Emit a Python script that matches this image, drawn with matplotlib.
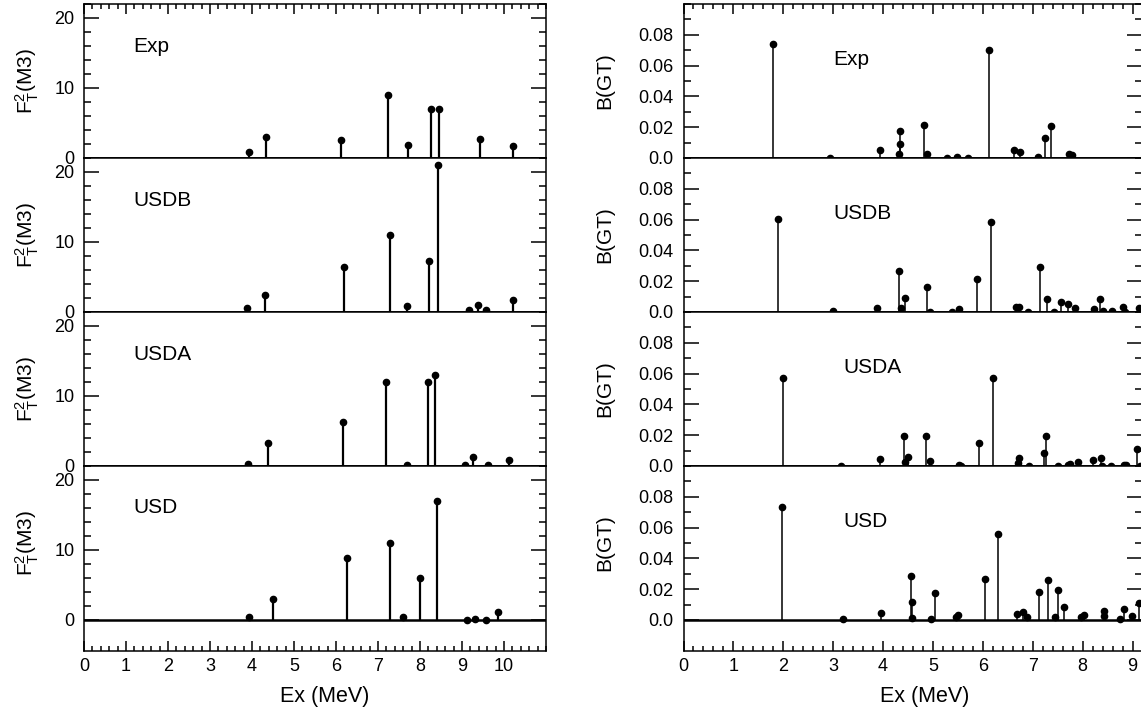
import numpy as np
import matplotlib
matplotlib.use("Agg")
import matplotlib.pyplot as plt
from matplotlib.ticker import MultipleLocator, FixedLocator, FuncFormatter
from matplotlib.transforms import blended_transform_factory

plt.rcParams['font.family'] = ['Liberation Sans', 'DejaVu Sans']
plt.rcParams['mathtext.default'] = 'regular'

models = ['Exp', 'USDB', 'USDA', 'USD']

# F_T^2(M3) strengths, left column
m3_exp_ex = [3.94, 4.34, 6.12, 7.24, 7.72, 8.25, 8.45, 9.42, 10.22]
m3_exp_val = [0.9, 2.95, 2.55, 9.0, 1.9, 7.0, 7.0, 2.75, 1.65]
m3_usdb_ex = [3.88, 4.31, 6.18, 7.29, 7.70, 8.22, 8.42, 9.16, 9.39, 9.58, 10.22]
m3_usdb_val = [0.6, 2.5, 6.5, 11.0, 0.85, 7.25, 21.0, 0.25, 1.0, 0.25, 1.7]
m3_usda_ex = [3.90, 4.38, 6.16, 7.19, 7.68, 8.18, 8.36, 9.07, 9.27, 9.61, 10.11]
m3_usda_val = [0.35, 3.3, 6.3, 12.0, 0.1, 12.0, 13.0, 0.1, 1.25, 0.15, 0.85]
m3_usd_ex = [3.92, 4.51, 6.27, 7.28, 7.60, 8.00, 8.41, 9.11, 9.31, 9.58, 9.86]
m3_usd_val = [0.4, 3.0, 8.8, 11.0, 0.4, 6.0, 17.0, 0.05, 0.1, 0.05, 1.1]

# B(GT) strengths, right column
gt_exp_ex = [1.80, 2.93, 3.94, 4.31, 4.33, 4.34, 4.83, 4.89, 5.29, 5.48, 5.71,
             6.13, 6.62, 6.74, 7.10, 7.24, 7.37, 7.73, 7.78]
gt_exp_val = [0.0739, 0.0, 0.005, 0.0026, 0.0091, 0.0178, 0.0213, 0.0024, 0.0,
              0.0004, 0.0, 0.0702, 0.005, 0.0041, 0.0004, 0.013, 0.0207, 0.0028, 0.0022]
gt_usdb_ex = [1.89, 3.00, 3.88, 4.31, 4.36, 4.44, 4.88, 4.94, 5.38, 5.52, 5.88,
              6.17, 6.67, 6.73, 6.91, 7.15, 7.29, 7.43, 7.57, 7.70, 7.85, 8.22,
              8.34, 8.41, 8.58, 8.81, 8.85, 9.12]
gt_usdb_val = [0.0605, 0.0009, 0.0028, 0.0266, 0.0028, 0.0091, 0.0164, 0.0002,
               0.0002, 0.0022, 0.0216, 0.0582, 0.003, 0.003, 0.0002, 0.0294, 0.0086,
               0.0002, 0.0067, 0.0054, 0.0026, 0.002, 0.0082, 0.0006, 0.0006, 0.003,
               0.0002, 0.0027]
gt_usda_ex = [1.99, 3.15, 3.94, 4.41, 4.43, 4.50, 4.86, 4.95, 5.53, 5.57, 5.93,
              6.20, 6.70, 6.73, 6.93, 7.22, 7.26, 7.50, 7.71, 7.75, 7.90, 8.21,
              8.36, 8.39, 8.56, 8.83, 8.86, 9.09, 9.14]
gt_usda_val = [0.0574, 0.0, 0.0043, 0.0198, 0.0026, 0.0061, 0.0198, 0.003, 0.0004,
               0.0, 0.0148, 0.0574, 0.0022, 0.005, 0.0, 0.0087, 0.0198, 0.0002,
               0.0004, 0.0015, 0.0028, 0.0041, 0.0054, 0.0002, 0.0002, 0.0004,
               0.0007, 0.0109, 0.0]
gt_usd_ex = [1.97, 3.20, 3.96, 4.55, 4.58, 4.57, 4.96, 5.04, 5.46, 5.51, 6.04,
             6.30, 6.68, 6.80, 6.88, 7.12, 7.30, 7.45, 7.50, 7.63, 7.96, 8.03,
             8.43, 8.43, 8.74, 8.82, 8.98, 9.12]
gt_usd_val = [0.0732, 0.0004, 0.0048, 0.0284, 0.0115, 0.001, 0.0004, 0.0173,
              0.0017, 0.003, 0.0266, 0.0559, 0.0041, 0.005, 0.0017, 0.0184, 0.026,
              0.0017, 0.0193, 0.0082, 0.0017, 0.003, 0.0058, 0.0028, 0.0004, 0.0069,
              0.0028, 0.011]

m3_yticks = [0, 10, 20]
gt_yticks = [0, 0.02, 0.04, 0.06, 0.08]
m3_xticks = list(range(0, 11))
gt_xticks = list(range(0, 10))

m3_series = [(m3_exp_ex, m3_exp_val), (m3_usdb_ex, m3_usdb_val),
             (m3_usda_ex, m3_usda_val), (m3_usd_ex, m3_usd_val)]
gt_series = [(gt_exp_ex, gt_exp_val), (gt_usdb_ex, gt_usdb_val),
             (gt_usda_ex, gt_usda_val), (gt_usd_ex, gt_usd_val)]

W, H = 1141, 718
fig = plt.figure(figsize=(W / 100, H / 100), dpi=100)

# panel rows in pixels from the top
row_top = [4, 158, 312, 466]
row_bot = [158, 312, 466, 650.7]


def make_axes(x0, x1, i):
    return fig.add_axes([x0 / W, 1 - row_bot[i] / H,
                         (x1 - x0) / W, (row_bot[i] - row_top[i]) / H])


def style_axes(ax, i, ymax, ymin, yticks, yminor, xticks):
    last = i == 3
    ax.set_ylim(ymin if last else 0, ymax)
    ax.yaxis.set_major_locator(FixedLocator(yticks))
    ax.yaxis.set_minor_locator(FixedLocator(np.arange(0, ymax + 1e-9, yminor)))
    ax.xaxis.set_major_locator(FixedLocator(xticks))
    ax.xaxis.set_minor_locator(MultipleLocator(0.2))
    ax.tick_params(axis='y', which='both', direction='in', left=True, right=True,
                   labelsize=13, pad=7, width=1.1)
    ax.tick_params(axis='y', which='major', length=10.5)
    ax.tick_params(axis='y', which='minor', length=5)
    ax.tick_params(axis='x', which='both', direction='in', top=(i == 0),
                   bottom=last, labelbottom=last, labelsize=13, pad=5.5, width=1.1)
    ax.tick_params(axis='x', which='major', length=7)
    ax.tick_params(axis='x', which='minor', length=3.5)
    for s in ax.spines.values():
        s.set_linewidth(1.1)
    ax.axhline(0, color='black', lw=1.8, zorder=3)


for i, name in enumerate(models):
    # left column: F_T^2(M3)
    ax = make_axes(84, 546, i)
    ex, val = m3_series[i]
    ax.vlines(ex, 0, val, color='black', lw=1.6)
    ax.plot(ex, val, 'o', color='black', ms=4.5, clip_on=False)
    ax.set_xlim(0, 11)
    style_axes(ax, i, 22, -4.4, m3_yticks, 2, m3_xticks)
    ax.text(1.17, 16, name, fontsize=15, va='center', ha='left')
    ax.set_ylabel(r'F$_{T}^{2}$(M3)', fontsize=15, va='center', ha='center')
    ax.yaxis.set_label_coords(-0.123, 11,
                              transform=blended_transform_factory(ax.transAxes, ax.transData))
    if i == 3:
        ax.set_xlabel('Ex (MeV)', fontsize=15.5, va='center')
        ax.xaxis.set_label_coords(0.52, -0.25)

    # right column: B(GT)
    ax = make_axes(683.5, 1142, i)
    ex, val = gt_series[i]
    ax.vlines(ex, 0, val, color='black', lw=1.1)
    ax.plot(ex, val, 'o', color='black', ms=4.5)
    ax.set_xlim(0, 9.19)
    style_axes(ax, i, 0.1, -0.02, gt_yticks, 0.01, gt_xticks)
    ax.yaxis.set_major_formatter(FuncFormatter(
        lambda v, p: '0.0' if abs(v) < 1e-9 else f'{v:.2f}'))
    ax.text(3.0 if i < 2 else 3.2, 0.064, name, fontsize=15, va='center', ha='left')
    ax.set_ylabel('B(GT)', fontsize=15, va='center', ha='center')
    ax.yaxis.set_label_coords(-0.171, 0.05,
                              transform=blended_transform_factory(ax.transAxes, ax.transData))
    if i == 3:
        ax.set_xlabel('Ex (MeV)', fontsize=15.5, va='center')
        ax.xaxis.set_label_coords(0.525, -0.25)

fig.savefig('out.png', dpi=100)
